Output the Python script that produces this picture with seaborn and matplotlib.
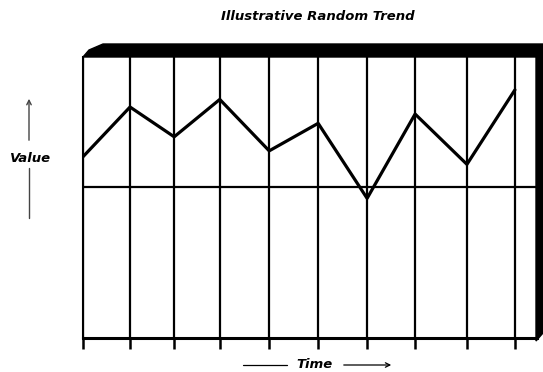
import matplotlib
matplotlib.use("Agg")
import matplotlib.pyplot as plt
from matplotlib.patches import Polygon, FancyArrowPatch
from matplotlib.lines import Line2D
import seaborn as sns
import pandas as pd

# data (time positions are slightly uneven in the original)
time_steps = [0, 0.98, 1.90, 2.85, 3.88, 4.90, 5.92, 6.92, 8.0, 9.0]
values = [64.5, 82.2, 71.6, 84.9, 66.6, 76.4, 49.7, 79.7, 61.8, 88.3]
baseline = 53.8

W, H = 543, 372


def fx(x):
    return x / W


def fy(y):
    return 1 - y / H


sns.set_style("white")
plt.rcParams['font.family'] = ['DejaVu Sans']
plt.rcParams['text.color'] = 'black'

fig = plt.figure(figsize=(W / 100, H / 100), dpi=100)
ax = fig.add_axes([fx(83), fy(338), fx(537) - fx(83), fy(57) - fy(338)])

df = pd.DataFrame({'time': time_steps, 'value': values})
sns.lineplot(ax=ax, data=df, x='time', y='value', color='black', linewidth=2.3)
ax.axhline(baseline, color='black', linewidth=1.6)

ax.set_xlim(0, 9.46)
ax.set_ylim(0, 100)
ax.set_xticks(time_steps)
ax.set_xticklabels([])
ax.set_yticks([])
ax.grid(axis='x', color='black', linewidth=1.6)
ax.tick_params(axis='x', direction='out', length=8, width=1.8, color='black', bottom=True)
ax.set_xlabel('')
ax.set_ylabel('')
for side in ['top', 'right']:
    ax.spines[side].set_visible(False)
ax.spines['left'].set_linewidth(1.5)
ax.spines['bottom'].set_linewidth(2.2)
ax.spines['left'].set_color('black')
ax.spines['bottom'].set_color('black')

# 3d-looking frame on top and right
frame = [(83, 57), (89, 50), (103, 44), (543, 44), (543, 333), (536, 341), (536, 57)]
fig.add_artist(Polygon([(fx(x), fy(y)) for x, y in frame], closed=True,
                       transform=fig.transFigure, facecolor='black', edgecolor='black'))

fig.text(fx(318), fy(17), 'Illustrative Random Trend', ha='center', va='center',
         fontsize=9.5, fontstyle='italic', fontweight='bold', color='black')

# value label with arrow
fig.text(fx(31), fy(158), 'Value', ha='center', va='center',
         fontsize=9.5, fontstyle='italic', fontweight='bold', color='black')
fig.add_artist(Line2D([fx(29), fx(29)], [fy(168), fy(218)], color='#444444', linewidth=1.0,
                      transform=fig.transFigure))
fig.add_artist(FancyArrowPatch((fx(29), fy(143)), (fx(29), fy(96)),
                               transform=fig.transFigure, arrowstyle='->', mutation_scale=8,
                               color='#444444', linewidth=1.0))

# time label with arrow
fig.text(fx(314), fy(365), 'Time', ha='center', va='center',
         fontsize=9.5, fontstyle='italic', fontweight='bold', color='black')
fig.add_artist(Line2D([fx(243), fx(287)], [fy(365), fy(365)], color='black', linewidth=0.9,
                      transform=fig.transFigure))
fig.add_artist(FancyArrowPatch((fx(341), fy(365)), (fx(394), fy(365)),
                               transform=fig.transFigure, arrowstyle='->', mutation_scale=8,
                               color='black', linewidth=0.9))

fig.savefig('out.png', dpi=100)
